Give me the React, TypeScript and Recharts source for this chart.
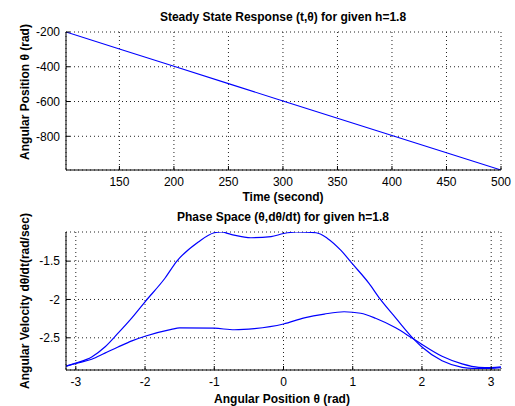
import React from "react";
import { LineChart, Line, XAxis, YAxis, CartesianGrid } from "recharts";

// Steady state response: time (s) vs angular position (rad)
const steadyT = [101, 150, 200, 250, 300, 350, 400, 450, 500];
const steadyTheta = [-200, -298, -397, -497, -597, -696, -796, -895, -994];

// Phase space branches: angular position vs angular velocity
const upperTheta = [
  -3.14, -3.0, -2.77, -2.58, -2.39, -2.19, -2.0, -1.71, -1.54, -1.23, -1.0,
  -0.9, -0.76, -0.47, -0.18, 0, 0.18, 0.47, 0.63, 0.83, 1.0, 1.235, 1.4,
  1.62, 1.885, 2.0, 2.29, 2.58, 2.73, 3.0, 3.14,
];
const upperOmega = [
  -2.87, -2.83, -2.75, -2.62, -2.44, -2.24, -2.03, -1.72, -1.5, -1.25, -1.13,
  -1.12, -1.15, -1.195, -1.18, -1.14, -1.12, -1.13, -1.2, -1.36, -1.54,
  -1.79, -2.0, -2.24, -2.52, -2.62, -2.8, -2.885, -2.9, -2.9, -2.89,
];
const lowerTheta = [
  -3.14, -3.0, -2.77, -2.58, -2.39, -2.19, -2.0, -1.62, -1.5, -1.0, -0.71,
  -0.42, 0, 0.3, 0.59, 0.875, 1.115, 1.33, 1.62, 1.885, 2.29, 2.58, 2.82,
  3.0, 3.14,
];
const lowerOmega = [
  -2.87, -2.835, -2.78, -2.7, -2.62, -2.54, -2.48, -2.39, -2.37, -2.375,
  -2.395, -2.38, -2.32, -2.24, -2.19, -2.16, -2.18, -2.245, -2.37, -2.52,
  -2.74, -2.84, -2.885, -2.89, -2.88,
];

const timeTicks = [150, 200, 250, 300, 350, 400, 450, 500];
const positionTicks = [-800, -600, -400, -200];
const angleTicks = [-3, -2, -1, 0, 1, 2, 3];
const velocityTicks = [-2.5, -2, -1.5];

const steadyData = steadyT.map((t, i) => ({ x: t, y: steadyTheta[i] }));
const upperData = upperTheta.map((x, i) => ({ x, y: upperOmega[i] }));
const lowerData = lowerTheta.map((x, i) => ({ x, y: lowerOmega[i] }));

const FONT = "'Liberation Sans', Arial, sans-serif";
const BLUE = "#0000ff";
const tickStyle = { fill: "#000", fontSize: 12, fontFamily: FONT };
const none = () => "";

const textBase: React.CSSProperties = {
  position: "absolute",
  fontFamily: FONT,
  fontSize: 12,
  fontWeight: "bold",
  color: "#000",
  whiteSpace: "nowrap",
  lineHeight: "14px",
  transform: "translate(-50%, -50%)",
};

function Txt({ x, y, rot, children }: { x: number; y: number; rot?: boolean; children: React.ReactNode }) {
  return (
    <div
      style={{
        ...textBase,
        left: x,
        top: y,
        transform: rot ? "translate(-50%, -50%) rotate(-90deg)" : textBase.transform,
      }}
    >
      {children}
    </div>
  );
}

export default function App() {
  const axisLine = { stroke: "#000", strokeWidth: 1 };
  const tickLine = { stroke: "#000" };
  return (
    <div style={{ position: "absolute", left: 0, top: 0, width: 515, height: 406, background: "#fff" }}>
      <Txt x={283} y={17}>Steady State Response (t,θ) for given h=1.8</Txt>
      <Txt x={25} y={92} rot>Angular Position θ (rad)</Txt>
      <Txt x={283} y={197}>Time (second)</Txt>

      <Txt x={283} y={217}>Phase Space (θ,dθ/dt) for given h=1.8</Txt>
      <Txt x={25} y={301} rot>Angular Velocity dθ/dt(rad/sec)</Txt>
      <Txt x={282} y={399}>Angular Position θ (rad)</Txt>

      {/* top subplot */}
      <div style={{ position: "absolute", left: 0, top: 0 }}>
        <LineChart width={515} height={206} margin={{ top: 32, right: 14, bottom: 0, left: 0 }}>
          <CartesianGrid stroke="#222" strokeDasharray="1 3" />
          <XAxis
            type="number"
            dataKey="x"
            domain={[101, 500]}
            ticks={timeTicks}
            allowDataOverflow
            height={36}
            tick={tickStyle}
            tickSize={-4}
            tickMargin={11}
            axisLine={axisLine}
            tickLine={tickLine}
          />
          <XAxis
            xAxisId="top"
            orientation="top"
            type="number"
            domain={[101, 500]}
            ticks={timeTicks}
            allowDataOverflow
            height={0}
            tickFormatter={none}
            tickSize={-4}
            axisLine={axisLine}
            tickLine={tickLine}
          />
          <YAxis
            type="number"
            domain={[-994, -200]}
            ticks={positionTicks}
            allowDataOverflow
            width={66}
            tick={tickStyle}
            tickSize={-4}
            tickMargin={10}
            axisLine={axisLine}
            tickLine={tickLine}
          />
          <YAxis
            yAxisId="right"
            orientation="right"
            type="number"
            domain={[-994, -200]}
            ticks={positionTicks}
            allowDataOverflow
            width={0}
            tickFormatter={none}
            tickSize={-4}
            axisLine={axisLine}
            tickLine={tickLine}
          />
          <Line
            data={steadyData}
            dataKey="y"
            type="linear"
            stroke={BLUE}
            strokeWidth={1.1}
            dot={false}
            isAnimationActive={false}
          />
        </LineChart>
      </div>

      {/* bottom subplot */}
      <div style={{ position: "absolute", left: 0, top: 206 }}>
        <LineChart width={515} height={200} margin={{ top: 26, right: 14, bottom: 0, left: 0 }}>
          <CartesianGrid stroke="#222" strokeDasharray="1 3" />
          <XAxis
            type="number"
            dataKey="x"
            domain={[-3.1416, 3.1416]}
            ticks={angleTicks}
            allowDataOverflow
            height={36}
            tick={tickStyle}
            tickSize={-4}
            tickMargin={11}
            axisLine={axisLine}
            tickLine={tickLine}
          />
          <XAxis
            xAxisId="top"
            orientation="top"
            type="number"
            domain={[-3.1416, 3.1416]}
            ticks={angleTicks}
            allowDataOverflow
            height={0}
            tickFormatter={none}
            tickSize={-4}
            axisLine={axisLine}
            tickLine={tickLine}
          />
          <YAxis
            type="number"
            domain={[-2.92, -1.12]}
            ticks={velocityTicks}
            allowDataOverflow
            width={66}
            tick={tickStyle}
            tickSize={-4}
            tickMargin={10}
            axisLine={axisLine}
            tickLine={tickLine}
          />
          <YAxis
            yAxisId="right"
            orientation="right"
            type="number"
            domain={[-2.92, -1.12]}
            ticks={velocityTicks}
            allowDataOverflow
            width={0}
            tickFormatter={none}
            tickSize={-4}
            axisLine={axisLine}
            tickLine={tickLine}
          />
          <Line
            data={upperData}
            dataKey="y"
            type="monotone"
            stroke={BLUE}
            strokeWidth={1.2}
            dot={false}
            isAnimationActive={false}
          />
          <Line
            data={lowerData}
            dataKey="y"
            type="monotone"
            stroke={BLUE}
            strokeWidth={1.2}
            dot={false}
            isAnimationActive={false}
          />
        </LineChart>
      </div>
    </div>
  );
}
